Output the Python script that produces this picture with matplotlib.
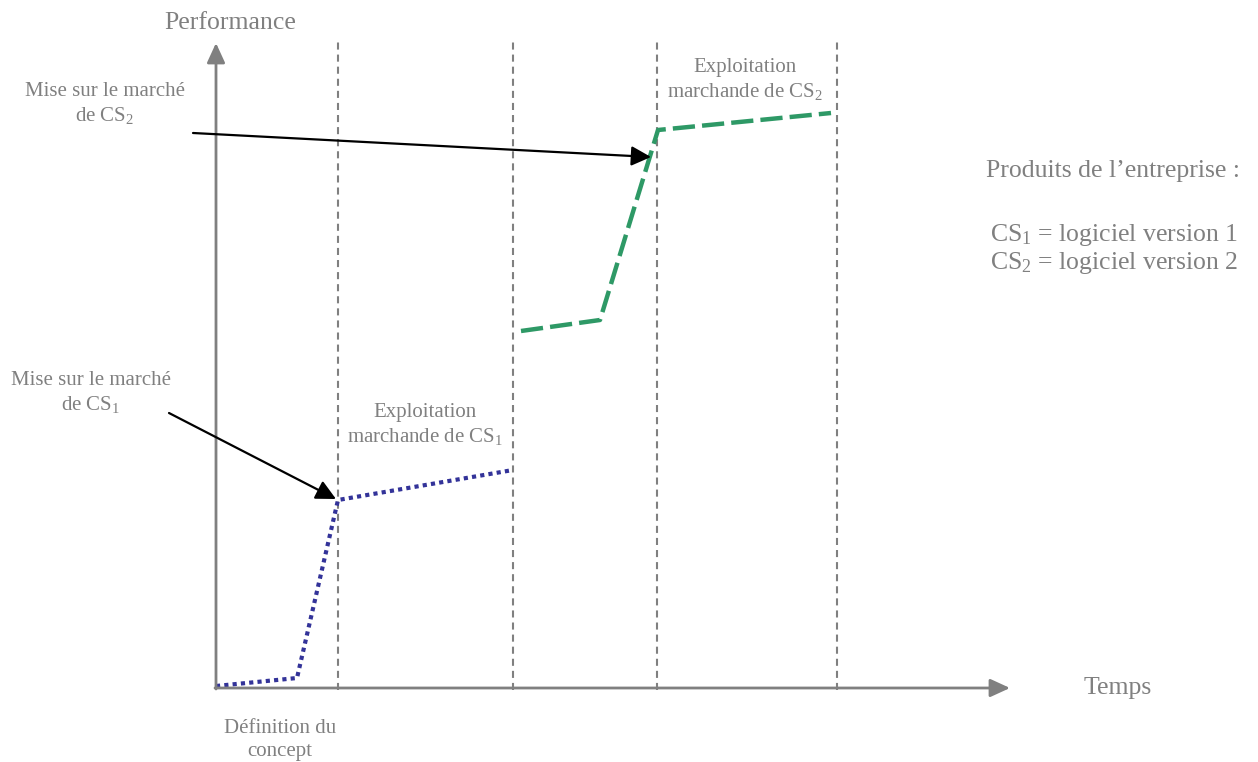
import matplotlib.pyplot as plt

# Diagram coordinates (time to the right, performance upward)
origin = (216, 74)
time_end = 1010
perf_end = 719

phase_x = [338, 513, 657, 837]
phase_top = 720

cs1_time = [216, 297, 338, 513]
cs1_perf = [76, 84, 262, 292]

cs2_time = [521, 600, 658, 831]
cs2_perf = [431, 442, 632, 649]

GREY = "#808080"
BLUE = "#333399"
GREEN = "#2e9966"


def main():
    plt.rcParams["font.family"] = ["Liberation Serif", "DejaVu Serif"]
    plt.rcParams["mathtext.fontset"] = "custom"
    plt.rcParams["mathtext.rm"] = "Liberation Serif"
    plt.rcParams["mathtext.default"] = "regular"

    fig = plt.figure(figsize=(12.58, 7.62), dpi=100)
    ax = fig.add_axes([0, 0, 1, 1])
    ax.set_xlim(0, 1258)
    ax.set_ylim(0, 762)
    ax.axis("off")

    # axes of the diagram
    axis_arrow = dict(arrowstyle="-|>,head_length=12,head_width=5.5",
                      color=GREY, lw=2.0, mutation_scale=1,
                      shrinkA=0, shrinkB=0)
    ax.annotate("", xy=(origin[0], perf_end), xytext=(origin[0], origin[1] - 1),
                arrowprops=axis_arrow)
    ax.annotate("", xy=(time_end, origin[1]), xytext=(origin[0] - 1, origin[1]),
                arrowprops=axis_arrow)

    # phase separators
    for x in phase_x:
        ax.plot([x, x], [origin[1] - 2, phase_top], color=GREY, lw=1.5,
                linestyle=(0, (3.4, 2.4)))

    # product curves
    ax.plot(cs1_time, cs1_perf, color=BLUE, lw=3.0,
            linestyle=(0, (1, 1)), dash_capstyle="butt")
    ax.plot(cs2_time, cs2_perf, color=GREEN, lw=3.2,
            linestyle=(0, (5, 1.6)), dash_capstyle="butt")

    # market launch arrows
    launch_arrow = dict(arrowstyle="-|>,head_length=12,head_width=6",
                        color="black", lw=1.6, mutation_scale=1,
                        shrinkA=0, shrinkB=0)
    ax.annotate("", xy=(336, 263), xytext=(169, 349), arrowprops=launch_arrow)
    ax.annotate("", xy=(651, 605), xytext=(193, 629), arrowprops=launch_arrow)

    small = dict(color=GREY, fontsize=15, ha="center", va="center",
                 linespacing=1.27)
    big = dict(color=GREY, fontsize=18.5, va="center")

    ax.text(230, 739, "Performance", ha="center", **big)
    ax.text(1118, 74, "Temps", ha="center", **big)

    ax.text(105, 658, "Mise sur le marché\nde CS$_2$", **small)
    ax.text(91, 369, "Mise sur le marché\nde CS$_1$", **small)
    ax.text(425, 337, "Exploitation\nmarchande de CS$_1$", **small)
    ax.text(745, 682, "Exploitation\nmarchande de CS$_2$", **small)
    ax.text(280, 22, "Définition du\nconcept", **small)

    ax.text(986, 591, "Produits de l\u2019entreprise :", ha="left", **big)
    ax.text(990, 527, "CS$_1$ = logiciel version 1", ha="left", **big)
    ax.text(990, 499, "CS$_2$ = logiciel version 2", ha="left", **big)

    fig.savefig("out.png", dpi=100)


if __name__ == "__main__":
    main()
